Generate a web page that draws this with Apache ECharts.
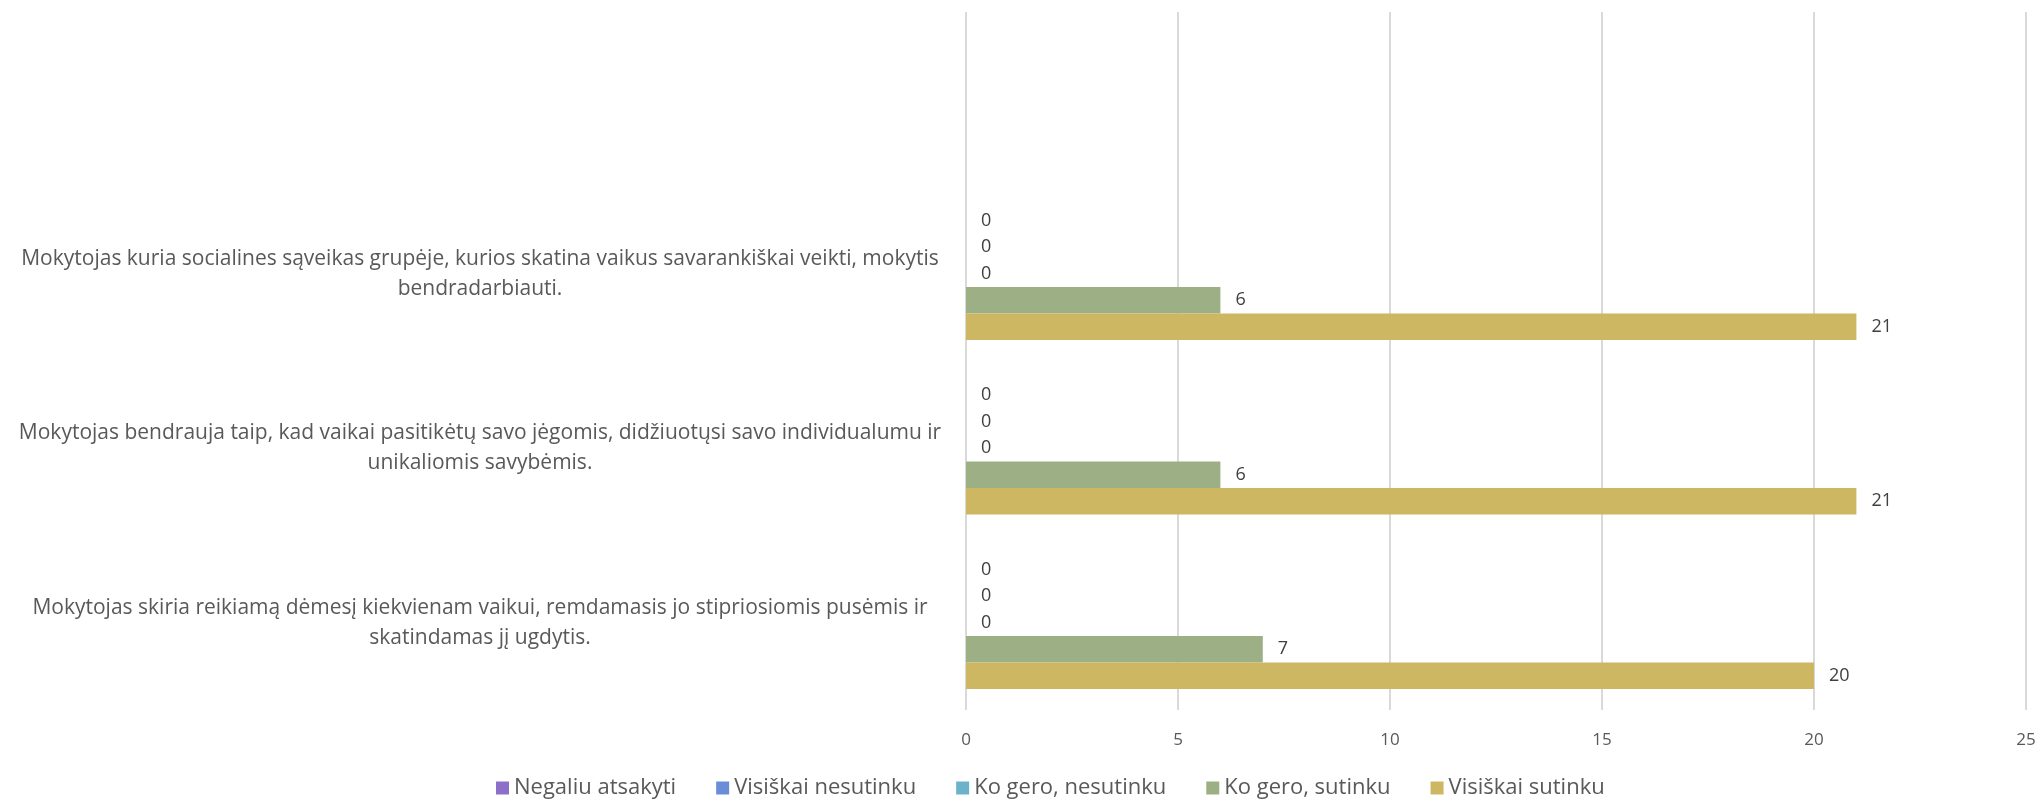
<!DOCTYPE html>
<html>
<head>
<meta charset="utf-8">
<script src="https://cdn.jsdelivr.net/npm/echarts@6/dist/echarts.min.js"></script>
<style>
  html, body { margin: 0; padding: 0; background: #fff; }
  #main { width: 2043px; height: 807px; }
</style>
</head>
<body>
<div id="main"></div>
<script>
// categories, bottom to top (top one is empty like in the original)
var categories = [
  'Mokytojas skiria reikiamą dėmesį kiekvienam vaikui, remdamasis jo stipriosiomis pusėmis ir\nskatindamas jį ugdytis.',
  'Mokytojas bendrauja taip, kad vaikai pasitikėtų savo jėgomis, didžiuotųsi savo individualumu ir\nunikaliomis savybėmis.',
  'Mokytojas kuria socialines sąveikas grupėje, kurios skatina vaikus savarankiškai veikti, mokytis\nbendradarbiauti.',
  ''
];
var seriesNames = ['Negaliu atsakyti', 'Visiškai nesutinku', 'Ko gero, nesutinku', 'Ko gero, sutinku', 'Visiškai sutinku'];
var seriesColors = ['#8B6FC9', '#6B8CD6', '#6BB2CA', '#9DAF84', '#CDB762'];
var negaliu = [0, 0, 0, null];
var visiskaiNesutinku = [0, 0, 0, null];
var koGeroNesutinku = [0, 0, 0, null];
var koGeroSutinku = [7, 6, 6, null];
var visiskaiSutinku = [20, 21, 21, null];
var xTicks = [0, 5, 10, 15, 20, 25];

var myChart = echarts.init(document.getElementById('main'));
var seriesData = [negaliu, visiskaiNesutinku, koGeroNesutinku, koGeroSutinku, visiskaiSutinku];

var series = [];
for (var i = 0; i < seriesNames.length; i++) {
  series.push({
    name: seriesNames[i],
    type: 'bar',
    data: seriesData[i],
    barGap: '0%',
    barCategoryGap: '24%',
    itemStyle: { color: seriesColors[i] },
    label: {
      show: true,
      position: 'right',
      distance: 15,
      color: '#404040',
      fontFamily: 'Open Sans',
      fontSize: 18
    }
  });
}

var option = {
  animation: false,
  backgroundColor: '#fff',
  textStyle: { fontFamily: 'Open Sans' },
  grid: { left: 966, right: 17, top: 12, bottom: 97 },
  legend: {
    bottom: 3,
    left: 491,
    icon: 'rect',
    itemWidth: 13,
    itemHeight: 13,
    itemGap: 40,
    textStyle: { color: '#595959', fontSize: 22, fontFamily: 'Open Sans' },
    data: seriesNames
  },
  xAxis: {
    type: 'value',
    min: xTicks[0],
    max: xTicks[xTicks.length - 1],
    interval: 5,
    axisLine: { show: false },
    axisTick: { show: false },
    axisLabel: { color: '#595959', fontSize: 17, margin: 22 },
    splitLine: { lineStyle: { color: '#d9d9d9', width: 2 } }
  },
  yAxis: {
    type: 'category',
    data: categories,
    axisLine: { show: false },
    axisTick: { show: false },
    axisLabel: {
      color: '#595959',
      fontSize: 21,
      lineHeight: 30,
      align: 'center',
      margin: 486
    }
  },
  series: series
};

myChart.setOption(option);
</script>
</body>
</html>
